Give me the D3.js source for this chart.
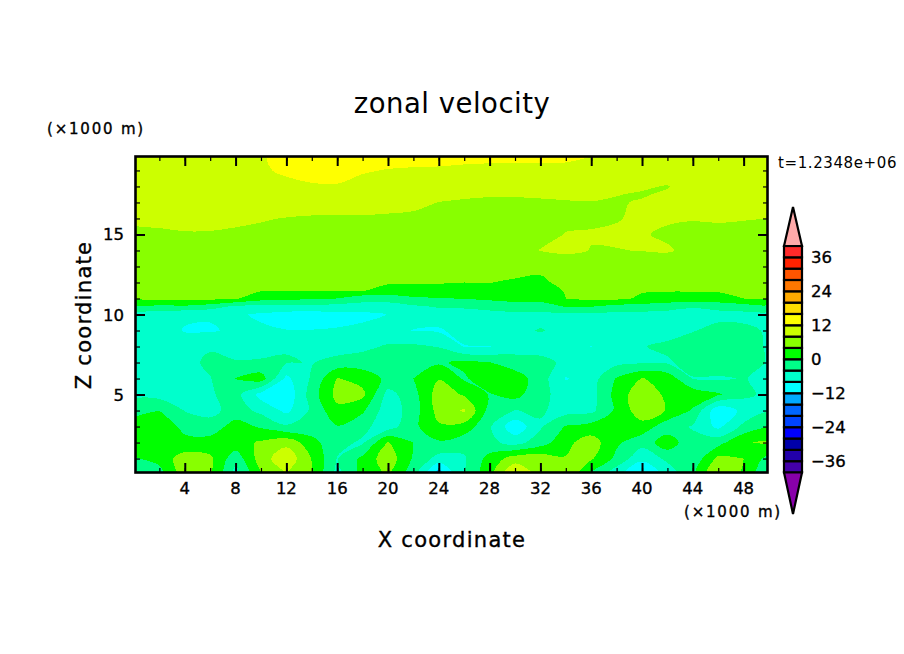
<!DOCTYPE html>
<html>
<head>
<meta charset="utf-8">
<title>zonal velocity</title>
<script src="https://cdn.jsdelivr.net/npm/d3@7"></script>
<style>
    body { margin: 0; background: #fff; }
    svg { display: block; }
    text { font-family: "DejaVu Sans", sans-serif; fill: #000; }
    .heavy { stroke: #000; stroke-width: 0.35px; }
</style>
</head>
<body>
<div id="chart"></div>
<script>
"use strict"

// grid positions, x and z in units of 1000 m
const xCoords = d3.range(0, 51, 2);
const zCoords = [20, 19, 18, 17.5, 17, 16, 15, 14, 13, 12, 11.5, 11, 10.5, 10, 9, 8, 7, 6, 5, 4, 3, 2, 1, 0];

// zonal velocity, one array per height
const u_z20 = [11, 11, 11, 11, 11, 11.7, 13, 13.5, 13.5, 13, 13, 12.8, 12.6, 12.5, 12.5, 12.5, 12.5, 12.5, 12.1, 11.8, 11.5, 11.3, 11.2, 11.1, 11, 11];
const u_z19 = [10.6, 10.6, 10.6, 10.6, 10.8, 11.6, 12.5, 13, 13, 12.2, 11.9, 11.8, 11.8, 11.7, 11.6, 11.6, 11.6, 11.5, 11.4, 11, 10.8, 10.6, 10.5, 10.5, 10.5, 10.5];
const u_z18 = [9.8, 9.9, 10, 10, 10.2, 10.6, 11.2, 11.7, 11.8, 11.3, 11, 10.9, 9.9, 9.4, 9.1, 9.1, 9.2, 9.4, 9.5, 8.6, 8.4, 7.8, 9.5, 9.9, 10, 10];
const u_z17h = [9.4, 9.4, 9.5, 9.5, 9.7, 10, 10.3, 10.5, 10.5, 10.2, 9.9, 9.7, 8.9, 8.4, 8.2, 8.2, 8.3, 8.5, 8.6, 8.1, 7.7, 8.5, 9.2, 9.6, 9.7, 9.7];
const u_z17 = [9, 9, 9.1, 9.1, 9.2, 9.4, 9.5, 9.3, 9.3, 9.2, 8.9, 8.6, 7.95, 7.7, 7.6, 7.6, 7.7, 7.8, 7.9, 7.7, 8.3, 8.8, 9.2, 9.4, 9.4, 9.4];
const u_z16 = [8.4, 8.6, 8.8, 8.7, 8.5, 8.2, 7.9, 7.7, 7.7, 7.7, 7.6, 7.5, 7.4, 7.3, 7.3, 7.3, 7.4, 7.5, 7.6, 7.8, 8.6, 8.3, 8.1, 8.2, 8.1, 8];
const u_z15 = [7.5, 7.6, 7.8, 7.8, 7.6, 7.4, 7.3, 7.2, 7.1, 7.1, 7, 7, 6.9, 6.9, 6.9, 7, 7.2, 8.1, 8.2, 8.5, 8.2, 7.6, 7.5, 7.5, 7.4, 7.4];
const u_z14 = [6.8, 6.8, 6.9, 6.9, 6.8, 6.7, 6.6, 6.6, 6.5, 6.5, 6.5, 6.5, 6.4, 6.4, 6.4, 6.5, 8.1, 8.7, 7.9, 7.9, 8.1, 8.3, 7.2, 7, 7, 6.8];
const u_z13 = [5.7, 5.7, 5.8, 5.8, 5.7, 5.6, 5.6, 5.5, 5.5, 5.5, 5.4, 5.3, 5.2, 5.1, 5, 4.9, 4.7, 5.6, 5.9, 6, 6, 6, 5.9, 5.8, 5.8, 5.7];
const u_z12 = [4.9, 5, 5, 5, 4.9, 4.7, 4.7, 4.6, 4.6, 4.6, 4.3, 4.2, 4.1, 4, 4.05, 3.7, 3.4, 4.9, 5, 4.9, 4.8, 4.8, 4.8, 4.9, 4.9, 5];
const u_z11h = [4.6, 4.7, 4.8, 4.7, 4.5, 4.3, 4.3, 4.2, 4.2, 4.15, 3, 3.2, 3.5, 3.6, 3.6, 2.4, 2, 4.3, 4.6, 4.5, 4.3, 4.2, 4.2, 4.3, 4.4, 4.5];
const u_z11 = [4.5, 5, 5.2, 5, 4.4, 1.6, 1.1, 0.5, 0, -2.5, -2.6, -0.8, -0.3, 0.2, 0.7, 1, 1, 4, 5, 4.8, 3.4, 2.8, 2.8, 2.9, 4, 4.4];
const u_z10h = [-0.5, -1, -0.6, -2, -4.8, -5, -5.3, -5.3, -5.5, -5.6, -5.5, -4.6, -3.6, -3.4, -2.4, -1.3, -1.3, 0.2, 0.2, -1.3, -1.6, -2.6, -3.7, -3, -1.8, -1];
const u_z10 = [-6.3, -6.5, -7.5, -7.7, -7.5, -8.5, -9.5, -9.7, -9.3, -9, -7.9, -6.8, -6, -5.8, -5.6, -5.2, -5.2, -4.8, -4.8, -5.2, -5.3, -5.3, -5.5, -5, -5.3, -5.3];
const u_z9 = [-6, -6.5, -8.2, -8.3, -7.5, -7.5, -7.9, -7.9, -7.7, -7, -6.8, -8.1, -8.5, -6.5, -5.5, -4.8, -3.8, -5, -5.5, -6, -6, -5.5, -4.2, -3, -3, -4.5];
const u_z8 = [-6, -6.5, -6.5, -4.5, -5.5, -5.5, -4.3, -6.3, -6, -5, -3.5, -3.3, -4.2, -8.2, -8.1, -6, -6, -6, -8.1, -6, -4.2, -3.2, -2.2, -2, -2.2, -4.5];
const u_z7 = [-6, -6, -5.5, -3, -3.7, -3.5, -3.7, -4.2, -2.5, -2, -0.4, -0.5, -0.5, 0.8, 0.1, -2, -2.5, -5, -6, -5, -4.5, -4.5, -2.5, -1.5, -1.5, -4.5];
const u_z6 = [-5.8, -4.1, -5.7, -4.2, 0.1, 2, -9, -3.5, 4.2, 2.5, -1, 0, 3.8, -0.5, 2.5, 2, -2, -8.3, -5.8, 0.3, 4.2, 2.5, -4.2, -4.5, -3.8, -5];
const u_z5 = [-5, -5.5, -5.5, -4.4, -2.5, -9.5, -11, -2, 5.2, 5, -5.5, -1.5, 6, 3.6, -0.3, 1.5, -3, -5.5, -5.5, 1.5, 7, 3, 2.5, 0.5, -3, -5];
const u_z4 = [-1.5, 0, -4.2, -5.5, -2, -5, -9, -3.2, 3, 0.7, -6.5, -2, 5.5, 8.5, -1.5, -4.1, -3.5, -5.5, -5, 0.8, 6.5, 3.7, -0.5, -11, -7, -4.5];
const u_z3 = [2, 2.5, -1, -2, 1.5, -0.5, -3.5, -2.5, -0.2, -3, -6, -1, 3.5, 2.5, -3.5, -11, -4.5, 0.3, 1.5, 3, 2.5, -2.5, -4.3, -9, -3, 0.2];
const u_z2 = [3, 2.5, 1, 1.5, 2.5, 4.5, 6.8, 1.5, -3, -4.5, 4.2, 0, -0.5, -2.5, -3, -5.5, -2, 3, 6, 0.7, -2.5, 2.5, -3, -1.5, 3.7, 4.5];
const u_z1 = [-0.5, 1.5, 6, 4.8, -2.5, 6, 11, 3.8, -4.2, 1, 6.5, -0.5, -5.5, -4.5, 1.5, 6, 6.5, 4.2, 4.5, -1, -7, -3, -3, 5, 4, -1.5];
const u_z0 = [-3, -2, 6, 4.6, -6, 3.5, 8, 4, -6, 1.5, 4.5, -3, -15, -4.5, 2.5, 12.5, 6, 7, -1, -7, -12.5, -7, -1, 8.5, 3, -5];

const uRows = [u_z20, u_z19, u_z18, u_z17h, u_z17, u_z16, u_z15, u_z14, u_z13, u_z12, u_z11h, u_z11, u_z10h, u_z10,
    u_z9, u_z8, u_z7, u_z6, u_z5, u_z4, u_z3, u_z2, u_z1, u_z0];

// colour bands, lowest first, one more colour than levels
const levels = d3.range(-40, 41, 4);
const bandColors = ["#8800aa", "#4400aa", "#2200aa", "#0000aa", "#0000ff", "#0044ff", "#0066ff", "#00aaff", "#00ffff", "#00ffcc", "#00ff88",
    "#00ff00", "#88ff00", "#ccff00", "#ffff00", "#ffdd00", "#ffaa00", "#ff7700", "#ff5500", "#ff2200", "#ff2a2a", "#ffaaaa"];
const xTicks = d3.range(4, 49, 4);
const xMinorTicks = d3.range(2, 50, 2);
const zTicks = [5, 10, 15];
const zMinorTicks = d3.range(1, 20);
const barTicks = [-36, -24, -12, 0, 12, 24, 36];

const width = 904, height = 654;
const plotLeft = 136, plotRight = 767, plotTop = 157, plotBottom = 472;

const x = d3.scaleLinear().domain([0.16, 49.84]).range([plotLeft, plotRight]);
const y = d3.scaleLinear().domain([0.16, 19.84]).range([plotBottom, plotTop]);

// grid index back to data coordinates, d3.contours puts sample i at i + 0.5
const colToX = d3.scaleLinear().domain(xCoords.map((d, i) => i)).range(xCoords);
const rowToZ = d3.scaleLinear().domain(zCoords.map((d, i) => i)).range(zCoords);

const svg = d3.select("#chart").append("svg")
    .attr("width", width)
    .attr("height", height);

svg.append("clipPath").attr("id", "plot-clip")
    .append("rect")
    .attr("x", plotLeft).attr("y", plotTop)
    .attr("width", plotRight - plotLeft).attr("height", plotBottom - plotTop);

const contours = d3.contours()
    .size([xCoords.length, zCoords.length])
    .thresholds(levels)(uRows.flat());

// rounded bands, the curve still goes through every contour vertex
const ringLine = d3.line()
    .x(p => x(colToX(p[0] - 0.5)))
    .y(p => y(rowToZ(p[1] - 0.5)))
    .curve(d3.curveCatmullRomClosed.alpha(0.5));

function contourPath(d) {
    return d.coordinates.map(polygon =>
        polygon.map(ring => ringLine(ring.slice(0, -1))).join("")
    ).join("");
}

const field = svg.append("g")
    .attr("clip-path", "url(#plot-clip)")
    .attr("shape-rendering", "crispEdges");

field.selectAll("path")
    .data(contours)
    .join("path")
    .attr("d", contourPath)
    .attr("fill-rule", "evenodd")
    .attr("fill", (d, i) => bandColors[i + 1]);

// ticks point inward on all four sides
function drawTicks(axis, minorValues, majorValues, minorLen, majorLen, tx, ty) {
    const g = svg.append("g").attr("transform", "translate(" + tx + "," + ty + ")");
    g.call(axis.tickValues(minorValues).tickSize(minorLen).tickFormat(""));
    g.selectAll(".tick line").attr("stroke", "#000").attr("stroke-width", 1.2);
    const g2 = svg.append("g").attr("transform", "translate(" + tx + "," + ty + ")");
    g2.call(axis.tickValues(majorValues).tickSize(majorLen));
    g2.selectAll(".tick line").attr("stroke", "#000").attr("stroke-width", 2);
    g.select(".domain").remove();
    g2.select(".domain").remove();
    g2.selectAll("text").remove();
}

drawTicks(d3.axisTop(x), xMinorTicks, xTicks, 4, 9, 0, plotBottom);
drawTicks(d3.axisBottom(x), xMinorTicks, xTicks, 4, 9, 0, plotTop);
drawTicks(d3.axisRight(y), zMinorTicks, zTicks, 4, 9, plotLeft, 0);
drawTicks(d3.axisLeft(y), zMinorTicks, zTicks, 4, 9, plotRight, 0);

svg.append("rect")
    .attr("x", plotLeft - 0.5).attr("y", plotTop - 0.5)
    .attr("width", plotRight - plotLeft + 1).attr("height", plotBottom - plotTop + 1)
    .attr("fill", "none").attr("stroke", "#000").attr("stroke-width", 2.6);

// tick labels sit outside the frame
svg.append("g").selectAll("text").data(xTicks).join("text")
    .attr("class", "heavy")
    .attr("x", d => x(d)).attr("y", 494)
    .attr("text-anchor", "middle")
    .style("font-size", "16.5px")
    .text(d => d);

svg.append("g").selectAll("text").data(zTicks).join("text")
    .attr("class", "heavy")
    .attr("x", 124).attr("y", d => y(d) + 6)
    .attr("text-anchor", "end")
    .style("font-size", "16.5px")
    .text(d => d);

svg.append("text").attr("x", 452).attr("y", 113)
    .attr("text-anchor", "middle")
    .style("font-size", "27.5px").style("letter-spacing", "0.5px")
    .text("zonal velocity");

svg.append("text").attr("x", 452).attr("y", 547)
    .attr("class", "heavy")
    .attr("text-anchor", "middle")
    .style("font-size", "21px").style("letter-spacing", "1.3px")
    .text("X coordinate");

svg.append("text")
    .attr("class", "heavy")
    .attr("transform", "translate(91,315) rotate(-90)")
    .attr("text-anchor", "middle")
    .style("font-size", "21px").style("letter-spacing", "1.3px")
    .text("Z coordinate");

svg.append("text").attr("x", 47).attr("y", 134)
    .attr("class", "heavy")
    .style("font-size", "15px").style("letter-spacing", "1.8px")
    .text("(×1000 m)");

svg.append("text").attr("x", 684).attr("y", 517)
    .attr("class", "heavy")
    .style("font-size", "15px").style("letter-spacing", "1.8px")
    .text("(×1000 m)");

svg.append("text").attr("x", 778).attr("y", 168)
    .style("font-size", "15px").style("letter-spacing", "0.6px")
    .text("t=1.2348e+06");

// colour bar
const barLeft = 784, barRight = 802;
const barY = d3.scaleLinear().domain([-40, 40]).range([472.5, 246]);
const bar = svg.append("g");

const barCells = d3.pairs(levels);
bar.selectAll("rect")
    .data(barCells)
    .join("rect")
    .attr("x", barLeft)
    .attr("y", d => barY(d[1]))
    .attr("width", barRight - barLeft)
    .attr("height", d => barY(d[0]) - barY(d[1]))
    .attr("fill", (d, i) => bandColors[i + 1])
    .attr("stroke", "#000")
    .attr("stroke-width", 2.2);

bar.append("path")
    .attr("d", d3.line()([[barLeft, barY(40)], [(barLeft + barRight) / 2, 207], [barRight, barY(40)]]) + "Z")
    .attr("fill", bandColors[bandColors.length - 1])
    .attr("stroke", "#000").attr("stroke-width", 2.2);

bar.append("path")
    .attr("d", d3.line()([[barLeft, barY(-40)], [(barLeft + barRight) / 2, 514], [barRight, barY(-40)]]) + "Z")
    .attr("fill", bandColors[0])
    .attr("stroke", "#000").attr("stroke-width", 2.2);

bar.append("g").selectAll("text").data(barTicks).join("text")
    .attr("class", "heavy")
    .attr("x", 811).attr("y", d => barY(d) + 6)
    .style("font-size", "16.5px")
    .text(d => d < 0 ? "\u2212" + Math.abs(d) : d);
</script>
</body>
</html>
